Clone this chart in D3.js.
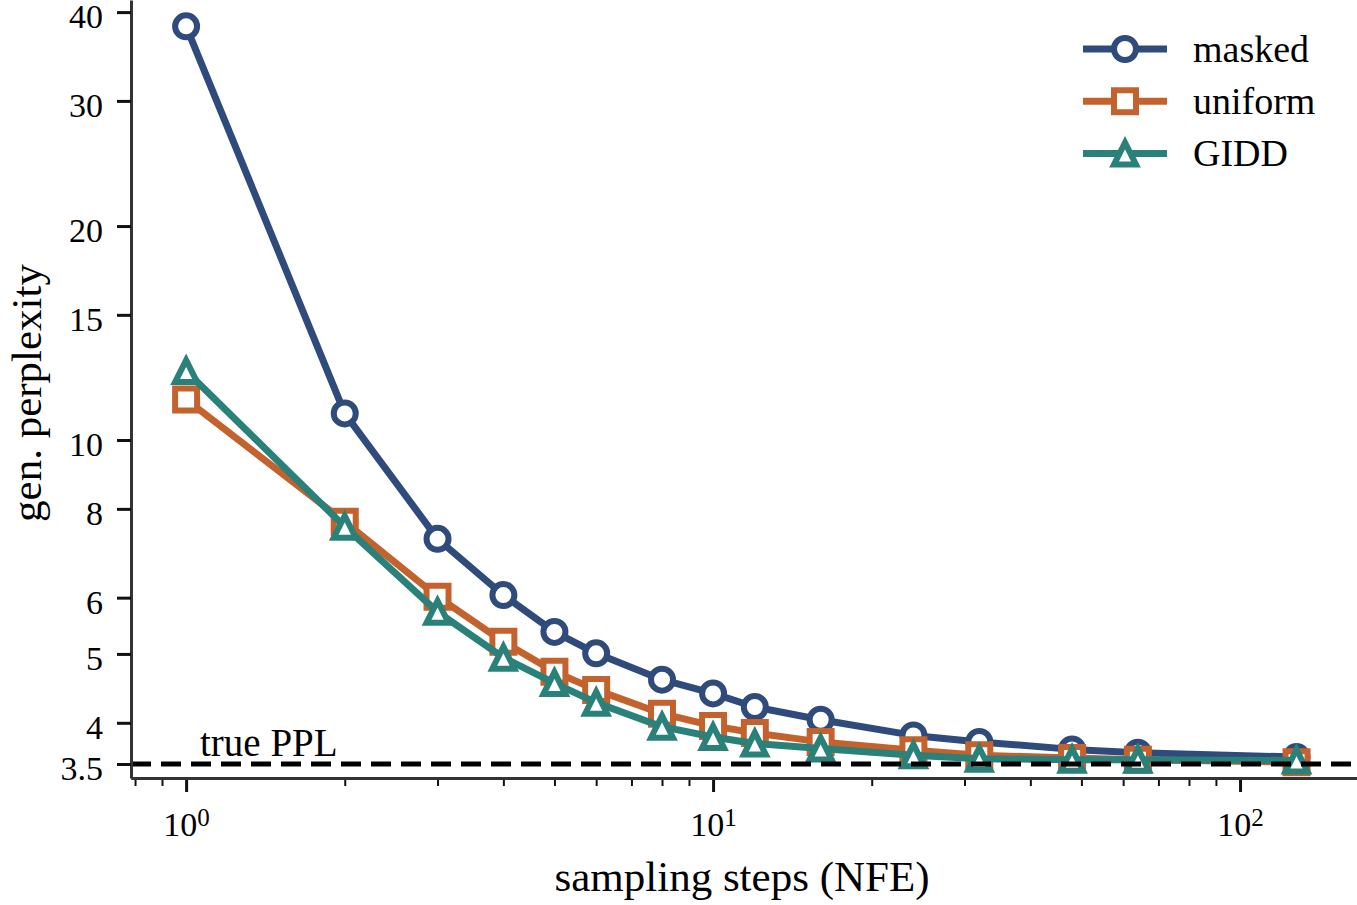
<!DOCTYPE html>
<html lang="en">
<head>
    <meta charset="UTF-8">
    <title>gen. perplexity vs sampling steps</title>
    <script src="https://cdn.jsdelivr.net/npm/d3@7"></script>
    <style>
    body{
        margin: 0;
        background: #fff;
    }
    svg{
        display: block;
        font-family: "Liberation Serif", "DejaVu Serif", serif;
    }
    .line{
        fill: none;
        stroke-width: 7;
        stroke-linejoin: round;
    }
    .marker{
        fill: #fff;
        stroke-width: 6;
        stroke-linejoin: miter;
    }
    .axis path.domain{
        stroke: #333;
        stroke-width: 3;
    }
    .axis .tick line{
        stroke: #111;
        stroke-width: 3;
    }
    .axis.minor .tick line{
        stroke-width: 2;
    }
    .axis text{
        fill: #000;
        font-size: 34px;
        font-family: "Liberation Serif", "DejaVu Serif", serif;
    }
    .ppl-line{
        stroke: #000;
        stroke-width: 5;
        stroke-dasharray: 20 10;
    }
    .label{
        font-size: 43px;
        fill: #000;
    }
    .legend text{
        font-size: 38px;
        fill: #000;
    }
    .ppl-text{
        font-size: 39px;
        fill: #000;
    }
    </style>
</head>
<body>
    <div id="root"></div>
    <script>
        // data
        const steps = [1, 2, 3, 4, 5, 6, 8, 10, 12, 16, 24, 32, 48, 64, 128]
        const maskedPPL  = [38.2, 10.9, 7.26, 6.05, 5.37, 5.01, 4.60, 4.40, 4.21, 4.04, 3.84, 3.76, 3.67, 3.63, 3.58]
        const uniformPPL = [11.4, 7.67, 6.02, 5.20, 4.72, 4.45, 4.12, 3.96, 3.87, 3.76, 3.66, 3.60, 3.57, 3.55, 3.52]
        const giddPPL    = [12.5, 7.55, 5.73, 4.94, 4.55, 4.27, 3.95, 3.82, 3.74, 3.68, 3.60, 3.56, 3.55, 3.55, 3.54]
        const seriesNames = ['masked', 'uniform', 'GIDD']
        const truePPL = 3.5
        const yTicks = [3.5, 4, 5, 6, 8, 10, 15, 20, 30, 40]
        const xTicks = [1, 10, 100]
        const xDomain = [0.786, 166.7]
        const yDomain = [3.345, 41.6]

        const width = 1357
        const height = 905
        const left = 131      // y spine
        const bottom = 778    // x spine

        const colors = ['#2e4b7c', '#c4622d', '#2a8179']
        const shapes = ['circle', 'square', 'triangle']
        const series = [maskedPPL, uniformPPL, giddPPL].map((vals, i) => ({
            name: seriesNames[i], color: colors[i], shape: shapes[i],
            points: steps.map((s, j) => ({x: s, y: vals[j]}))
        }))

        const svg = d3.select('#root').append('svg')
            .attr('width', width).attr('height', height)

        const xScale = d3.scaleLog().domain(xDomain).range([left, width])
        const yScale = d3.scaleLog().domain(yDomain).range([bottom, 0])

        const ms = 22  // marker size
        const markerPath = (shape) => {
            const h = ms / 2
            if (shape == 'square') return `M${-h},${-h}H${h}V${h}H${-h}Z`
            if (shape == 'triangle') return `M0,${-h}L${h},${h}H${-h}Z`
            return `M${h},0A${h},${h} 0 1,1 ${-h},0A${h},${h} 0 1,1 ${h},0Z`
        }

        // lines + markers, one series after the other
        const line = d3.line().x(d => xScale(d.x)).y(d => yScale(d.y))
        series.forEach(s => {
            const g = svg.append('g')
            g.append('path').attr('class', 'line')
                .attr('stroke', s.color)
                .attr('d', line(s.points))
            g.selectAll('path.marker').data(s.points).enter()
                .append('path').attr('class', 'marker')
                .attr('stroke', s.color)
                .attr('transform', d => `translate(${xScale(d.x)},${yScale(d.y)})`)
                .attr('d', markerPath(s.shape))
        })

        // true PPL reference line
        svg.append('line').attr('class', 'ppl-line')
            .attr('x1', left).attr('x2', width)
            .attr('y1', yScale(truePPL)).attr('y2', yScale(truePPL))
        svg.append('text').attr('class', 'ppl-text')
            .attr('x', 200).attr('y', yScale(truePPL) - 8)
            .text('true PPL')

        // y axis
        const yAxisG = svg.append('g').attr('class', 'axis')
            .attr('transform', `translate(${left},0)`)
            .call(d3.axisLeft(yScale).tickValues(yTicks).tickSize(14).tickSizeOuter(0)
                .tickPadding(14).tickFormat(d3.format('~g')))
        yAxisG.selectAll('.tick text').attr('dy', '0.46em')

        // x axis: minor ticks first, then major with 10^k labels
        const minor = xScale.ticks().filter(v => !xTicks.includes(v))
        svg.append('g').attr('class', 'axis minor')
            .attr('transform', `translate(0,${bottom})`)
            .call(d3.axisBottom(xScale).tickValues(minor).tickSize(8).tickSizeOuter(0).tickFormat(''))
        const xAxisG = svg.append('g').attr('class', 'axis')
            .attr('transform', `translate(0,${bottom})`)
            .call(d3.axisBottom(xScale).tickValues(xTicks).tickSize(14).tickSizeOuter(0)
                .tickPadding(20).tickFormat(''))
        xAxisG.selectAll('.tick text').each(function(d) {
            const t = d3.select(this)
            t.append('tspan').text('10')
            t.append('tspan').attr('dy', '-0.42em').style('font-size', '25px')
                .text(Math.round(Math.log10(d)))
        })
        xAxisG.select('path.domain').raise()

        // axis labels
        svg.append('text').attr('class', 'label')
            .attr('x', (left + width) / 2 - 2).attr('y', 891)
            .attr('text-anchor', 'middle')
            .text('sampling steps (NFE)')
        svg.append('text').attr('class', 'label')
            .attr('transform', `translate(41,${bottom / 2 + 4}) rotate(-90)`)
            .attr('text-anchor', 'middle')
            .text('gen. perplexity')

        // legend
        const legend = svg.append('g').attr('class', 'legend')
        series.forEach((s, i) => {
            const row = legend.append('g').attr('transform', `translate(1083,${49 + i * 52.3})`)
            row.append('line').attr('x1', 0).attr('x2', 84)
                .attr('stroke', s.color).attr('stroke-width', 7)
            row.append('path').attr('class', 'marker')
                .attr('stroke', s.color)
                .attr('transform', 'translate(42,0)')
                .attr('d', markerPath(s.shape))
            row.append('text').attr('x', 110).attr('dy', '0.33em').text(s.name)
        })
    </script>
</body>
</html>
